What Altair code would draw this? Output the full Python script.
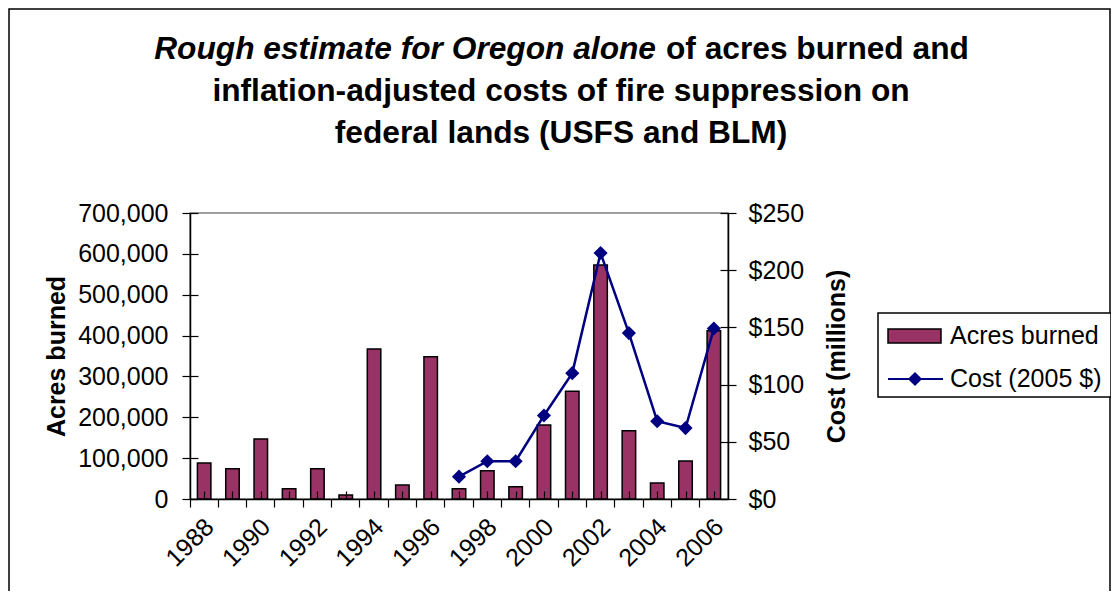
import altair as alt
import pandas as pd

years = [str(y) for y in range(1988, 2007)]
acres = [88000, 74000, 147000, 25000, 74000, 10000, 367000, 34000, 348000,
         25000, 69000, 30000, 181000, 264000, 573000, 167000, 39000, 93000, 412000]
cost_years = [str(y) for y in range(1997, 2007)]
cost = [19.5, 33, 33, 73, 110, 215, 145, 68, 62, 149]
acre_ticks = [0, 100000, 200000, 300000, 400000, 500000, 600000, 700000]
cost_ticks = [0, 50, 100, 150, 200, 250]

FONT = "Liberation Sans"
BAR = "#993366"
LINE = "#000080"
W, H = 538, 286

bars_df = pd.DataFrame({"year": years, "acres": acres})
cost_df = pd.DataFrame({"year": cost_years, "cost": cost})

xscale = alt.Scale(domain=years, paddingInner=0, paddingOuter=0)
yl = alt.Scale(domain=[0, 700000], nice=False)
yr = alt.Scale(domain=[0, 250], nice=False)

common = dict(labelFont=FONT, labelFontSize=25, labelColor="black", tickColor="black",
              tickSize=8, tickWidth=1.2, domainColor="black", domainWidth=1.5, grid=False, zindex=1)

xaxis = alt.Axis(
    title=None, labelAngle=-45, bandPosition=0, labelOverlap=False,
    labelExpr="parseInt(datum.value) % 2 == 0 ? datum.value : ''",
    labelPadding=7, labelOffset=-3, **common,
)

bars = alt.Chart(bars_df).mark_bar(
    size=13.5, color=BAR, stroke="black", strokeWidth=1.5
).encode(
    x=alt.X("year:N", scale=xscale, axis=xaxis, sort=years),
    y=alt.Y("acres:Q", scale=yl, axis=alt.Axis(
        title="Acres burned", values=acre_ticks, labelExpr="format(datum.value, ',')",
        titleFont=FONT, titleFontSize=25, titleFontWeight="bold", titleColor="black",
        titleX=-134, titleY=H / 2, titleAngle=270, titleAlign="center", titleBaseline="middle",
        labelPadding=14, **common,
    )),
)

line = alt.Chart(cost_df).mark_line(
    color=LINE, strokeWidth=2.5,
    point=alt.OverlayMarkDef(shape="diamond", size=200, filled=True, color=LINE, opacity=1),
).encode(
    x=alt.X("year:N", scale=xscale, sort=years, axis=None),
    y=alt.Y("cost:Q", scale=yr, axis=alt.Axis(
        title="Cost (millions)", orient="right", values=cost_ticks,
        labelExpr="'$' + datum.value",
        titleFont=FONT, titleFontSize=25, titleFontWeight="bold", titleColor="black",
        titleX=108, titleY=H / 2, titleAngle=270, titleAlign="center", titleBaseline="middle",
        labelPadding=12, **common,
    )),
)

inner = dict(labels=False, domain=False, tickSize=8, tickWidth=1.2, tickColor="black",
             title=None, grid=False, offset=-8, zindex=1)

left_in = alt.Chart(pd.DataFrame({"v": acre_ticks})).mark_point(opacity=0).encode(
    y=alt.Y("v:Q", scale=yl, axis=alt.Axis(orient="left", values=acre_ticks, **inner))
)
right_in = alt.Chart(pd.DataFrame({"v": cost_ticks})).mark_point(opacity=0).encode(
    y=alt.Y("v:Q", scale=yr, axis=alt.Axis(orient="right", values=cost_ticks, **inner))
)
bottom_in = alt.Chart(pd.DataFrame({"year": years})).mark_point(opacity=0).encode(
    x=alt.X("year:N", scale=xscale, sort=years,
            axis=alt.Axis(orient="bottom", bandPosition=0, **inner))
)

one = alt.Data(values=[{"a": 1}])

frame = alt.Chart(one).mark_rect(filled=False, stroke="black", strokeWidth=1.5).encode(
    x=alt.value(-181), x2=alt.value(W + 383 - 1), y=alt.value(-204), y2=alt.value(H + 120)
)

def txt(text, x, y, align="center", italic=False, size=31.7, bold=True):
    kw = dict(text=text, font=FONT, fontSize=size, color="black", align=align, baseline="middle",
              fontWeight="bold" if bold else "normal")
    if italic:
        kw["fontStyle"] = "italic"
    return alt.Chart(one).mark_text(**kw).encode(x=alt.value(x), y=alt.value(y))

title1a = txt("Rough estimate for Oregon alone", 466, -164, align="right", italic=True)
title1b = txt("of acres burned and", 476, -164, align="left")
title2 = txt("inflation-adjusted costs of fire suppression on", 371, -122)
title3 = txt("federal lands (USFS and BLM)", 371, -80)

leg_box = alt.Chart(one).mark_rect(fill="white", stroke="black", strokeWidth=1.5).encode(
    x=alt.value(688), x2=alt.value(921), y=alt.value(100), y2=alt.value(184)
)
leg_sw = alt.Chart(one).mark_rect(fill=BAR, stroke="black", strokeWidth=1.5).encode(
    x=alt.value(698), x2=alt.value(751), y=alt.value(116), y2=alt.value(130)
)
leg_t1 = txt("Acres burned", 760, 123, align="left", size=25, bold=False)
leg_ln = alt.Chart(one).mark_rule(color=LINE, strokeWidth=2).encode(
    x=alt.value(698), x2=alt.value(753), y=alt.value(166)
)
leg_pt = alt.Chart(one).mark_point(shape="diamond", size=200, filled=True, color=LINE, opacity=1).encode(
    x=alt.value(725), y=alt.value(166)
)
leg_t2 = txt("Cost (2005 $)", 760, 166, align="left", size=25, bold=False)

chart = alt.layer(
    bars, line, left_in, right_in, bottom_in,
    frame, title1a, title1b, title2, title3,
    leg_box, leg_sw, leg_t1, leg_ln, leg_pt, leg_t2,
).resolve_scale(x="independent", y="independent").properties(
    width=W, height=H,
    padding={"left": 182, "top": 205, "right": 383, "bottom": 92},
    autosize=alt.AutoSizeParams(type="none"),
    background="white",
).configure_view(stroke="#808080", strokeWidth=1.5)

chart.save("out.html", embed_options={"renderer": "svg", "actions": False})
